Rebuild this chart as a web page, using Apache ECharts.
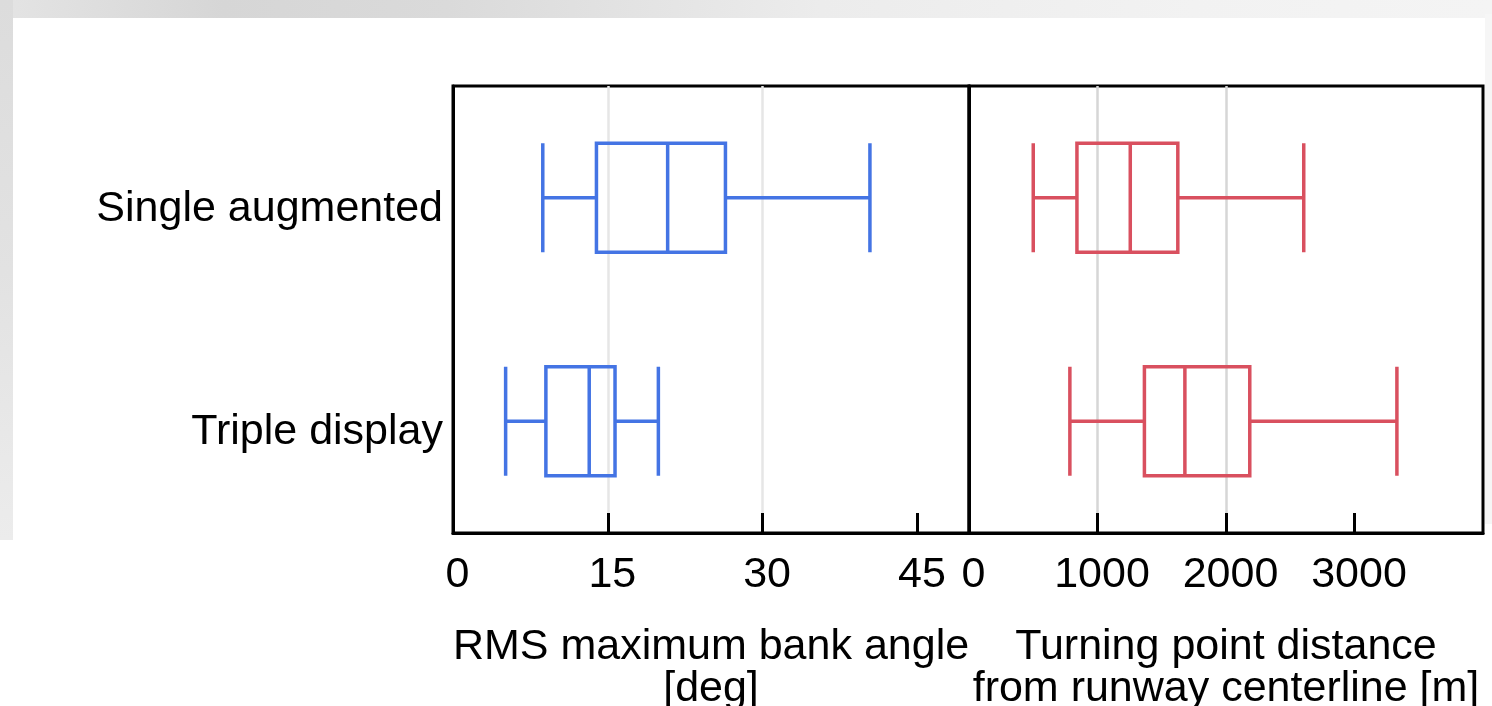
<!DOCTYPE html>
<html>
<head>
<meta charset="utf-8">
<script src="https://cdn.jsdelivr.net/npm/echarts@6/dist/echarts.min.js"></script>
<style>
  html, body { margin: 0; padding: 0; background: #ffffff; }
  #bgTop { position: absolute; left: 0; top: 0; width: 1492px; height: 18px;
    background: linear-gradient(90deg, #e4e4e4 0%, #d6d6d6 15%, #dadada 30%, #ececec 55%, #f2f2f2 80%, #f4f4f4 100%); }
  #bgLeft { position: absolute; left: 0; top: 0; width: 13px; height: 540px;
    background: linear-gradient(180deg, #dcdcdc 0%, #e2e2e2 50%, #ececec 100%); }
  #bgRight { position: absolute; left: 1485px; top: 14px; width: 7px; height: 510px; background: #f6f6f6; }
  #chart { position: absolute; left: 0; top: 0; width: 1492px; height: 706px; }
</style>
</head>
<body>
<div id="bgTop"></div>
<div id="bgLeft"></div>
<div id="bgRight"></div>
<div id="chart"></div>
<script>
// ---- data ----
const categories = ['Single augmented', 'Triple display'];
// [min, Q1, median, Q3, max]
const bankAngle = [
  [8.7, 13.9, 20.8, 26.4, 40.4],
  [5.1, 9.0, 13.2, 15.7, 19.9]
];
const turningDistance = [
  [500, 840, 1255, 1625, 2605],
  [785, 1365, 1680, 2185, 3330]
];
const bankTicks = [0, 15, 30, 45];
const distTicks = [0, 1000, 2000, 3000];
const bankName = 'RMS maximum bank angle\n[deg]';
const distName = 'Turning point distance\nfrom runway centerline [m]';

const FONT = 'Liberation Sans, Arial, Helvetica, sans-serif';
const FS = 43;
const blue = '#4474e4';
const red = '#d9505f';

const chart = echarts.init(document.getElementById('chart'), null, { renderer: 'canvas' });

function xAxisCfg(gridIndex, max, interval, ticks, name, splitColor) {
  return {
    type: 'value', gridIndex, min: 0, max, interval,
    name, nameLocation: 'middle', nameGap: 93,
    nameTextStyle: { fontFamily: FONT, fontSize: FS, color: '#000', lineHeight: 42 },
    axisLine: { show: true, lineStyle: { color: '#000', width: 3 } },
    axisTick: { show: true, inside: true, length: 20, customValues: ticks, lineStyle: { color: '#000', width: 3 } },
    axisLabel: { show: true, customValues: ticks, margin: 21, fontFamily: FONT, fontSize: FS, color: '#000',
      padding: [0, 0, 0, 9], formatter: v => String(v) },
    splitLine: { show: true, showMinLine: false, showMaxLine: false, lineStyle: { color: splitColor, width: 2.5 } }
  };
}

function yAxisCfg(gridIndex, showLabels) {
  return {
    type: 'category', gridIndex, data: categories, inverse: true,
    axisLine: { show: true, lineStyle: { color: '#000', width: 3 } },
    axisTick: { show: false },
    axisLabel: {
      show: showLabels, margin: 10, color: '#000',
      formatter: v => '{l|' + v + '}',
      rich: { l: { fontFamily: FONT, fontSize: FS, color: '#000', padding: [22, 0, 0, 0] } }
    },
    splitLine: { show: false }
  };
}

chart.setOption({
  backgroundColor: 'transparent',
  animation: false,
  grid: [
    { left: 453, top: 86, width: 516, height: 447, outerBoundsMode: 'none', containLabel: false,
      show: true, borderColor: '#000', borderWidth: 3, backgroundColor: '#fff' },
    { left: 969, top: 86, width: 514, height: 447, outerBoundsMode: 'none', containLabel: false,
      show: true, borderColor: '#000', borderWidth: 3, backgroundColor: '#fff' }
  ],
  xAxis: [
    xAxisCfg(0, 50, 15, bankTicks, bankName, '#e6e6e6'),
    xAxisCfg(1, 4000, 1000, distTicks, distName, '#d6d6d6')
  ],
  yAxis: [ yAxisCfg(0, true), yAxisCfg(1, false) ],
  series: [
    {
      type: 'boxplot', xAxisIndex: 0, yAxisIndex: 0, data: bankAngle,
      boxWidth: [109, 109],
      itemStyle: { color: 'rgba(255,255,255,0)', borderColor: blue, borderWidth: 3.5 }
    },
    {
      type: 'boxplot', xAxisIndex: 1, yAxisIndex: 1, data: turningDistance,
      boxWidth: [109, 109],
      itemStyle: { color: 'rgba(255,255,255,0)', borderColor: red, borderWidth: 3.5 }
    }
  ]
});
</script>
</body>
</html>
